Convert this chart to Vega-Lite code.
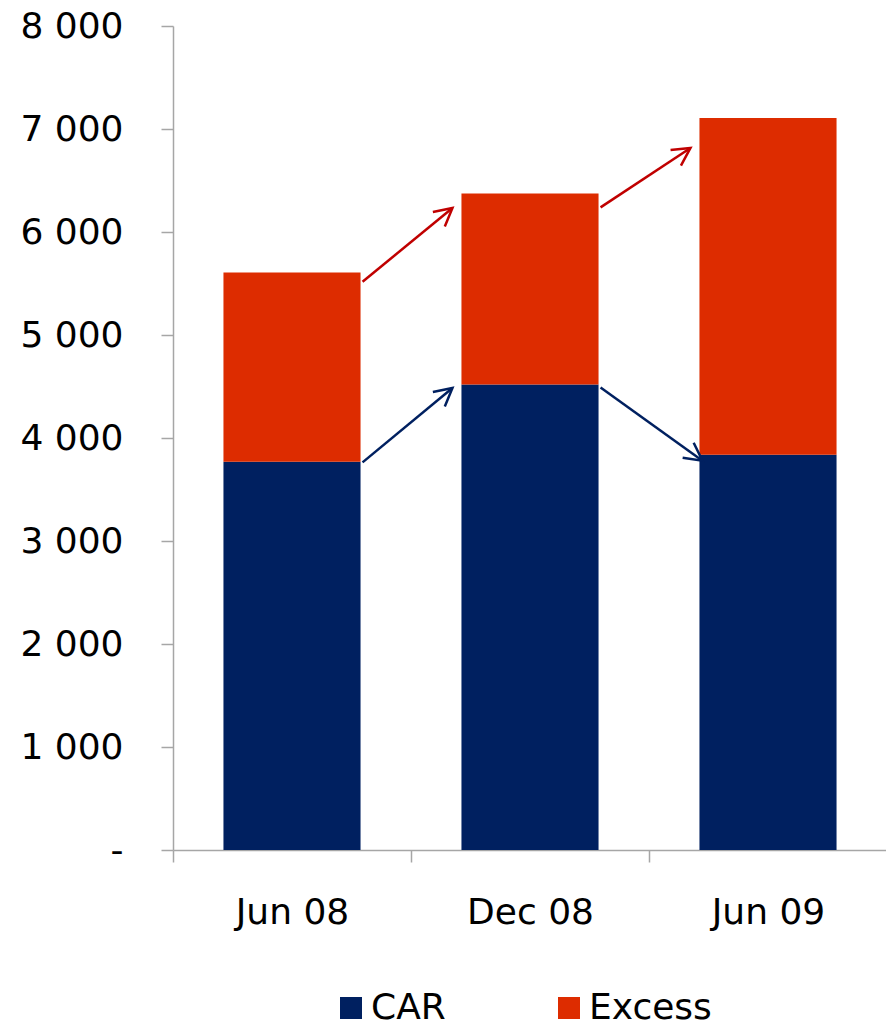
{
  "$schema": "https://vega.github.io/schema/vega-lite/v6.json",
  "width": 714,
  "height": 824,
  "autosize": {"type": "none"},
  "padding": {"left": 173, "top": 26, "right": 0, "bottom": 174},
  "background": "white",
  "config": {
    "view": {"stroke": null},
    "font": "DejaVu Sans",
    "axis": {
      "labelFont": "DejaVu Sans",
      "labelFontSize": 36,
      "labelColor": "#000000",
      "domainColor": "#a6a6a6",
      "domainWidth": 1.5,
      "tickColor": "#a6a6a6",
      "tickWidth": 1.5,
      "tickSize": 12,
      "grid": false,
      "title": null
    }
  },
  "datasets": {
    "bars": [
      {"period": "Jun 08", "series": "CAR", "value": 3770},
      {"period": "Jun 08", "series": "Excess", "value": 1838},
      {"period": "Dec 08", "series": "CAR", "value": 4520},
      {"period": "Dec 08", "series": "Excess", "value": 1855},
      {"period": "Jun 09", "series": "CAR", "value": 3838},
      {"period": "Jun 09", "series": "Excess", "value": 3269}
    ],
    "arrows": [
      {"id": "r1", "series": "Excess", "from": "Jun 08", "to": "Dec 08", "y_start": 5517, "y_end": 6233},
      {"id": "b1", "series": "CAR", "from": "Jun 08", "to": "Dec 08", "y_start": 3763, "y_end": 4485},
      {"id": "r2", "series": "Excess", "from": "Dec 08", "to": "Jun 09", "y_start": 6239, "y_end": 6816},
      {"id": "b2", "series": "CAR", "from": "Dec 08", "to": "Jun 09", "y_start": 4491, "y_end": 3780}
    ]
  },
  "layer": [
    {
      "data": {"name": "bars"},
      "mark": {"type": "bar"},
      "encoding": {
        "x": {
          "field": "period",
          "type": "nominal",
          "sort": null,
          "scale": {"domain": ["Jun 08", "Dec 08", "Jun 09"], "paddingInner": 0.424, "paddingOuter": 0.212},
          "axis": {"labelAngle": 0, "tickOffset": -119, "labelOffset": 119, "labelPadding": 33, "labelBaseline": "top"}
        },
        "y": {
          "field": "value",
          "type": "quantitative",
          "stack": "zero",
          "scale": {"domain": [0, 8000], "nice": false},
          "axis": {
            "values": [0, 1000, 2000, 3000, 4000, 5000, 6000, 7000, 8000],
            "labelExpr": "datum.value == 0 ? '-' : replace(format(datum.value, ','), ',', ' ')",
            "labelPadding": 38
          }
        },
        "order": {"field": "series", "sort": "ascending"},
        "color": {
          "field": "series",
          "type": "nominal",
          "scale": {"domain": ["CAR", "Excess"], "range": ["#002060", "#DD2C00"]},
          "legend": {
            "orient": "none",
            "direction": "horizontal",
            "legendX": 160,
            "legendY": 964,
            "title": null,
            "padding": 0,
            "symbolType": "square",
            "symbolSize": 484,
            "symbolStrokeWidth": 0,
            "labelFont": "DejaVu Sans",
            "labelFontSize": 36,
            "labelColor": "#000000",
            "labelOffset": 2,
            "columnPadding": 105
          }
        }
      }
    },
    {
      "data": {"name": "arrows"},
      "transform": [{"filter": "datum.id != 'b2'"}],
      "mark": {"type": "rule", "strokeWidth": 2.5, "xOffset": 2, "x2Offset": -9},
      "encoding": {
        "x": {"field": "from", "type": "nominal", "bandPosition": 1},
        "x2": {"field": "to", "bandPosition": 0},
        "y": {"field": "y_start", "type": "quantitative"},
        "y2": {"field": "y_end"},
        "stroke": {"field": "series", "type": "nominal", "scale": {"domain": ["CAR", "Excess"], "range": ["#002060", "#C00000"]}, "legend": null}
      }
    },
    {
      "data": {"name": "arrows"},
      "transform": [{"filter": "datum.id == 'b2'"}],
      "mark": {"type": "rule", "strokeWidth": 2.5, "xOffset": 2, "x2Offset": 3},
      "encoding": {
        "x": {"field": "from", "type": "nominal", "bandPosition": 1},
        "x2": {"field": "to", "bandPosition": 0},
        "y": {"field": "y_start", "type": "quantitative"},
        "y2": {"field": "y_end"},
        "stroke": {"field": "series", "type": "nominal", "legend": null}
      }
    },
    {
      "data": {"name": "arrows"},
      "transform": [{"filter": "datum.id == 'r1' || datum.id == 'b1'"}],
      "mark": {"type": "point", "shape": "M-1,-0.53L0,0L-1,0.53", "filled": false, "strokeWidth": 2.5, "size": 1250, "angle": 320.4, "xOffset": -9, "opacity": 1},
      "encoding": {
        "x": {"field": "to", "type": "nominal", "bandPosition": 0},
        "y": {"field": "y_end", "type": "quantitative"},
        "stroke": {"field": "series", "type": "nominal", "legend": null}
      }
    },
    {
      "data": {"name": "arrows"},
      "transform": [{"filter": "datum.id == 'r2'"}],
      "mark": {"type": "point", "shape": "M-1,-0.53L0,0L-1,0.53", "filled": false, "strokeWidth": 2.5, "size": 1250, "angle": 326.3, "xOffset": -9, "opacity": 1},
      "encoding": {
        "x": {"field": "to", "type": "nominal", "bandPosition": 0},
        "y": {"field": "y_end", "type": "quantitative"},
        "stroke": {"field": "series", "type": "nominal", "legend": null}
      }
    },
    {
      "data": {"name": "arrows"},
      "transform": [{"filter": "datum.id == 'b2'"}],
      "mark": {"type": "point", "shape": "M-1,-0.53L0,0L-1,0.53", "filled": false, "strokeWidth": 2.5, "size": 1250, "angle": 36, "xOffset": 3, "opacity": 1},
      "encoding": {
        "x": {"field": "to", "type": "nominal", "bandPosition": 0},
        "y": {"field": "y_end", "type": "quantitative"},
        "stroke": {"field": "series", "type": "nominal", "legend": null}
      }
    }
  ]
}
